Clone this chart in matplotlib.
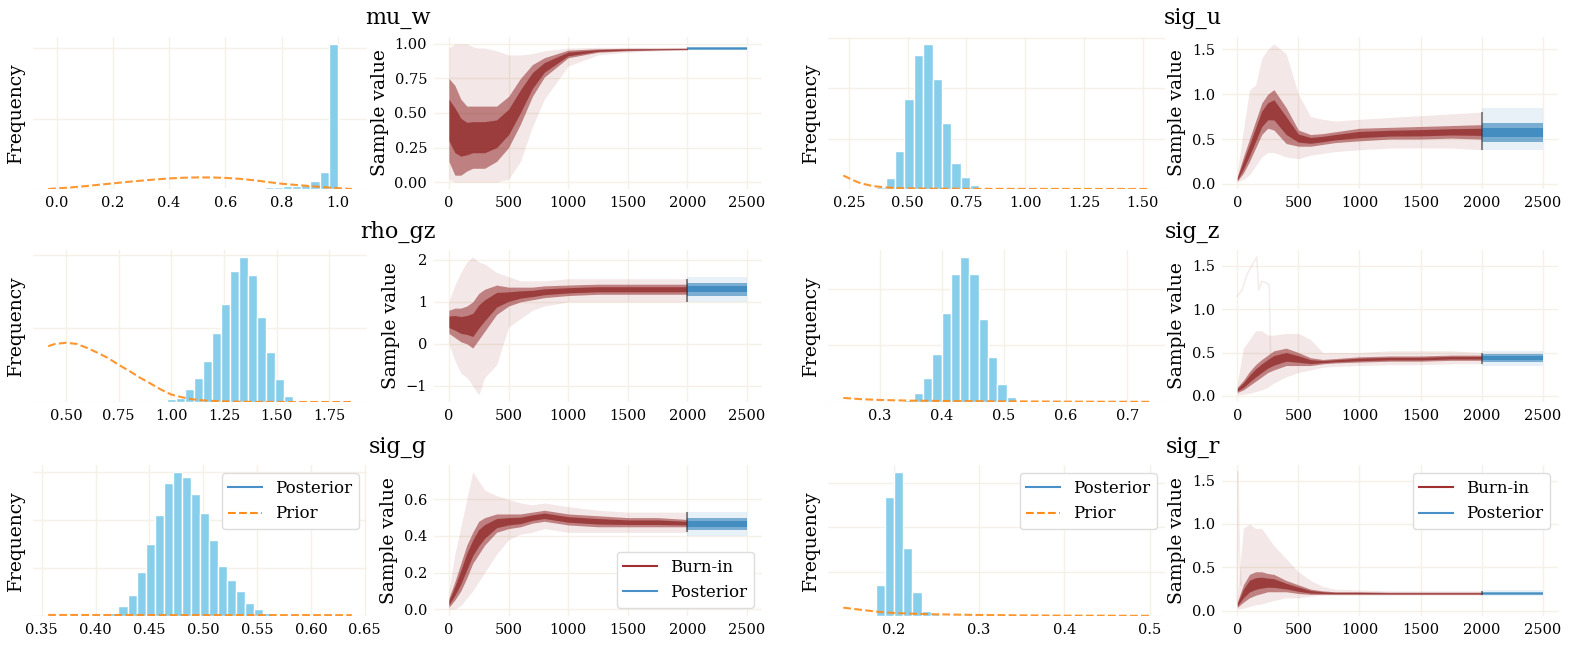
import numpy as np
import matplotlib
matplotlib.use("Agg")
import matplotlib.pyplot as plt
from matplotlib.ticker import MultipleLocator
from matplotlib.lines import Line2D

plt.rcParams['font.family'] = ['DejaVu Serif']

# ---------------- data ----------------
params = ["mu_w", "sig_u", "rho_gz", "sig_z", "sig_g", "sig_r"]

# histogram: first bin edge, bin width, heights (1000 = one grid step)
hist_start = {"mu_w": 0.483, "sig_u": 0.367, "rho_gz": 0.893, "sig_z": 0.3245, "sig_g": 0.4129, "sig_r": 0.168}
hist_width = {"mu_w": 0.0323, "sig_u": 0.0398, "rho_gz": 0.0427, "sig_z": 0.01504, "sig_g": 0.0084, "sig_r": 0.01078}
hist_counts = {
    "mu_w": [6, 6, 8, 10, 12, 14, 16, 20, 24, 30, 38, 48, 60, 110, 240, 2058],
    "sig_u": [33, 213, 753, 1780, 2647, 2867, 2180, 1300, 520, 247, 73],
    "rho_gz": [9, 18, 37, 55, 170, 322, 561, 933, 1333, 1779, 1968, 1720, 1159, 680, 308, 87, 9],
    "sig_z": [12, 30, 162, 431, 850, 1569, 2257, 2557, 2269, 1467, 802, 323, 96, 12],
    "sig_g": [70, 217, 441, 923, 1490, 2098, 2776, 2993, 2902, 2538, 2147, 1573, 1049, 748, 524, 280, 147, 63, 21],
    "sig_r": [23, 699, 2684, 3233, 1519, 541, 113, 38, 15],
}
prior_x = {
    "mu_w": [-0.03, 0.0, 0.05, 0.1, 0.15, 0.2, 0.25, 0.3, 0.35, 0.4, 0.45, 0.5, 0.55, 0.6, 0.65, 0.7, 0.75, 0.8, 0.85, 0.9, 0.95, 1.0, 1.05],
    "sig_u": [0.226, 0.25, 0.28, 0.3, 0.35, 0.4, 0.45, 0.5, 0.6, 0.8, 1.0, 1.25, 1.53],
    "rho_gz": [0.416, 0.45, 0.5, 0.55, 0.6, 0.65, 0.7, 0.75, 0.8, 0.85, 0.9, 0.95, 1.0, 1.05, 1.1, 1.15, 1.2, 1.3, 1.4, 1.6, 1.856],
    "sig_z": [0.241, 0.27, 0.3, 0.35, 0.4, 0.5, 0.6, 0.736],
    "sig_g": [0.356, 0.45, 0.55, 0.638],
    "sig_r": [0.141, 0.16, 0.18, 0.2, 0.22, 0.25, 0.3, 0.35, 0.4, 0.5],
}
prior_y = {
    "mu_w": [0, 8, 22, 40, 60, 80, 100, 118, 135, 150, 160, 165, 164, 158, 145, 125, 100, 75, 58, 42, 26, 12, 0],
    "sig_u": [267, 213, 150, 113, 60, 33, 20, 13, 7, 3, 2, 1, 0],
    "rho_gz": [759, 790, 805, 790, 736, 670, 598, 506, 423, 333, 253, 170, 101, 65, 37, 22, 14, 5, 2, 0, 0],
    "sig_z": [72, 50, 36, 24, 18, 12, 6, 3],
    "sig_g": [22, 20, 19, 18],
    "sig_r": [188, 143, 98, 68, 53, 38, 23, 15, 8, 4],
}

# trace envelopes (burn-in), read at these iterations
trace_x = [0, 50, 100, 150, 200, 250, 300, 400, 500, 600, 700, 800, 1000, 1250, 1500, 1750, 2000]
burn_outer_lo = {
    "mu_w":   [0.02, 0.0, 0.0, 0.0, 0.0, 0.0, 0.0, 0.0, 0.02, 0.15, 0.40, 0.60, 0.84, 0.92, 0.94, 0.95, 0.955],
    "sig_u":  [0.02, 0.05, 0.10, 0.20, 0.30, 0.35, 0.35, 0.30, 0.28, 0.32, 0.34, 0.36, 0.38, 0.40, 0.40, 0.40, 0.38],
    "rho_gz": [0.00, -0.40, -0.70, -0.80, -1.0, -1.22, -0.80, -0.50, 0.40, 0.60, 0.80, 0.90, 1.00, 1.00, 1.00, 1.00, 1.00],
    "sig_z":  [0.01, 0.02, 0.03, 0.05, 0.07, 0.10, 0.15, 0.22, 0.27, 0.30, 0.33, 0.34, 0.35, 0.36, 0.36, 0.37, 0.37],
    "sig_g":  [0.00, 0.00, 0.02, 0.06, 0.10, 0.15, 0.20, 0.30, 0.38, 0.41, 0.42, 0.44, 0.42, 0.42, 0.42, 0.42, 0.42],
    "sig_r":  [0.02, 0.03, 0.05, 0.07, 0.08, 0.10, 0.12, 0.15, 0.15, 0.17, 0.18, 0.18, 0.18, 0.18, 0.18, 0.18, 0.18],
}
burn_inner_lo = {
    "mu_w":   [0.15, 0.05, 0.05, 0.08, 0.10, 0.10, 0.10, 0.15, 0.25, 0.42, 0.62, 0.76, 0.90, 0.94, 0.95, 0.955, 0.958],
    "sig_u":  [0.03, 0.12, 0.25, 0.40, 0.55, 0.62, 0.60, 0.45, 0.42, 0.42, 0.44, 0.46, 0.48, 0.50, 0.50, 0.51, 0.50],
    "rho_gz": [0.25, 0.15, 0.05, 0.00, -0.10, 0.10, 0.30, 0.70, 0.90, 1.00, 1.05, 1.10, 1.15, 1.18, 1.18, 1.18, 1.18],
    "sig_z":  [0.04, 0.07, 0.12, 0.17, 0.22, 0.27, 0.30, 0.35, 0.35, 0.35, 0.37, 0.38, 0.39, 0.40, 0.40, 0.41, 0.41],
    "sig_g":  [0.01, 0.05, 0.10, 0.17, 0.25, 0.30, 0.35, 0.42, 0.44, 0.45, 0.47, 0.48, 0.46, 0.45, 0.45, 0.45, 0.45],
    "sig_r":  [0.04, 0.10, 0.15, 0.18, 0.20, 0.22, 0.22, 0.22, 0.20, 0.19, 0.19, 0.19, 0.19, 0.19, 0.19, 0.19, 0.19],
}
burn_inner_hi = {
    "mu_w":   [0.75, 0.70, 0.60, 0.55, 0.55, 0.55, 0.55, 0.55, 0.62, 0.75, 0.85, 0.90, 0.955, 0.965, 0.968, 0.968, 0.97],
    "sig_u":  [0.08, 0.30, 0.50, 0.70, 0.90, 1.00, 1.05, 0.85, 0.60, 0.55, 0.56, 0.58, 0.62, 0.63, 0.64, 0.65, 0.66],
    "rho_gz": [0.80, 0.85, 0.85, 0.90, 1.00, 1.20, 1.30, 1.40, 1.35, 1.35, 1.35, 1.38, 1.40, 1.42, 1.42, 1.42, 1.42],
    "sig_z":  [0.10, 0.18, 0.28, 0.36, 0.42, 0.47, 0.52, 0.55, 0.50, 0.44, 0.42, 0.43, 0.45, 0.46, 0.46, 0.47, 0.47],
    "sig_g":  [0.06, 0.15, 0.25, 0.35, 0.42, 0.48, 0.50, 0.52, 0.52, 0.52, 0.53, 0.54, 0.52, 0.51, 0.50, 0.50, 0.49],
    "sig_r":  [0.10, 0.30, 0.42, 0.45, 0.45, 0.43, 0.42, 0.35, 0.30, 0.25, 0.23, 0.22, 0.22, 0.215, 0.215, 0.215, 0.215],
}
burn_outer_hi = {
    "mu_w":   [0.97, 1.0, 1.0, 1.0, 0.98, 0.97, 0.97, 0.95, 0.92, 0.92, 0.93, 0.95, 0.97, 0.975, 0.975, 0.975, 0.975],
    "sig_u":  [0.12, 0.60, 1.05, 1.10, 1.40, 1.50, 1.56, 1.45, 1.00, 0.75, 0.72, 0.70, 0.72, 0.74, 0.76, 0.78, 0.80],
    "rho_gz": [1.00, 1.40, 1.70, 1.95, 2.07, 1.95, 1.90, 1.70, 1.60, 1.50, 1.50, 1.50, 1.55, 1.55, 1.55, 1.55, 1.55],
    "sig_z":  [0.15, 0.55, 0.65, 0.75, 0.75, 0.70, 0.70, 0.72, 0.72, 0.65, 0.50, 0.50, 0.50, 0.52, 0.52, 0.52, 0.50],
    "sig_g":  [0.10, 0.30, 0.45, 0.60, 0.75, 0.70, 0.65, 0.62, 0.60, 0.58, 0.57, 0.58, 0.56, 0.54, 0.53, 0.53, 0.53],
    "sig_r":  [0.15, 0.95, 1.00, 0.95, 0.95, 0.85, 0.75, 0.60, 0.45, 0.35, 0.28, 0.25, 0.24, 0.23, 0.23, 0.23, 0.23],
}
# posterior envelopes (iterations 2000-2500): outer_lo, inner_lo, inner_hi, outer_hi
post_x = [2000, 2500]
post_band = {
    "mu_w":   [0.955, 0.958, 0.975, 0.98],
    "sig_u":  [0.38, 0.47, 0.68, 0.85],
    "rho_gz": [1.00, 1.15, 1.45, 1.58],
    "sig_z":  [0.35, 0.39, 0.48, 0.52],
    "sig_g":  [0.40, 0.43, 0.50, 0.53],
    "sig_r":  [0.17, 0.18, 0.22, 0.235],
}
# single stray chains
stray_x = {"sig_z": [0, 40, 80, 120, 160, 175, 200, 240, 262, 272],
           "sig_r": [0, 6, 12, 20, 30]}
stray_y = {"sig_z": [1.15, 1.22, 1.40, 1.50, 1.60, 1.22, 1.32, 1.30, 1.28, 0.45],
           "sig_r": [0.10, 1.60, 1.00, 0.60, 0.30]}

# ---------------- styling / layout ----------------
W, H = 1572, 645
BURN = "#8b1a1a"
POST = "#1f77b4"
BAR = "#87ceeb"
PRIOR = "#ff8c1a"
GRID = "#f5f1e7"

col_left = [33, 434, 828, 1222]
col_w = [334, 328, 337, 336]
row_top = [37, 250, 465]
row_h = [152, 152, 151]
layout = {"mu_w": (0, 0), "sig_u": (0, 1), "rho_gz": (1, 0), "sig_z": (1, 1), "sig_g": (2, 0), "sig_r": (2, 1)}
title_y = [18, 232, 447]
hist_xstep = {"mu_w": 0.2, "sig_u": 0.25, "rho_gz": 0.25, "sig_z": 0.1, "sig_g": 0.05, "sig_r": 0.1}
trace_ystep = {"mu_w": 0.25, "sig_u": 0.5, "rho_gz": 1, "sig_z": 0.5, "sig_g": 0.2, "sig_r": 0.5}

fig = plt.figure(figsize=(W / 100, H / 100), dpi=100)


def rect(l, t, w, h):
    return [l / W, 1 - (t + h) / H, w / W, h / H]


def style(ax):
    for s in ax.spines.values():
        s.set_visible(False)
    ax.grid(True, color=GRID, lw=1.0)
    ax.set_axisbelow(True)
    ax.tick_params(length=0, labelsize=10.5, pad=5)


for p in params:
    r, c = layout[p]
    hc, tc = 2 * c, 2 * c + 1
    axh = fig.add_axes(rect(col_left[hc], row_top[r], col_w[hc], row_h[r]))
    axt = fig.add_axes(rect(col_left[tc], row_top[r], col_w[tc], row_h[r]))
    style(axh)
    style(axt)

    # histogram
    counts = hist_counts[p]
    edges = hist_start[p] + hist_width[p] * np.arange(len(counts) + 1)
    axh.bar(edges[:-1], counts, width=np.diff(edges), align="edge",
            color=BAR, edgecolor="white", linewidth=1.0, zorder=2)
    axh.plot(prior_x[p], prior_y[p], "--", color=PRIOR, lw=1.5, alpha=0.9, zorder=3)
    axh.yaxis.set_major_locator(MultipleLocator(1000))
    axh.xaxis.set_major_locator(MultipleLocator(hist_xstep[p]))
    axh.tick_params(axis="y", labelleft=False)
    axh.set_ylabel("Frequency", fontsize=13.5, labelpad=6)

    # trace
    tx = np.array(trace_x, dtype=float)
    olo, ilo = np.array(burn_outer_lo[p]), np.array(burn_inner_lo[p])
    ihi, ohi = np.array(burn_inner_hi[p]), np.array(burn_outer_hi[p])
    axt.fill_between(tx, olo, ohi, color=BURN, alpha=0.10, lw=0)
    axt.fill_between(tx, ilo, ihi, color=BURN, alpha=0.50, lw=0)
    q = 0.25 * (ihi - ilo)
    axt.fill_between(tx, ilo + q, ihi - q, color=BURN, alpha=0.65, lw=0)
    pb = post_band[p]
    pxa = np.array(post_x, dtype=float)
    axt.fill_between(pxa, [pb[0]] * 2, [pb[3]] * 2, color=POST, alpha=0.10, lw=0)
    axt.fill_between(pxa, [pb[1]] * 2, [pb[2]] * 2, color=POST, alpha=0.55, lw=0)
    qq = 0.25 * (pb[2] - pb[1])
    axt.fill_between(pxa, [pb[1] + qq] * 2, [pb[2] - qq] * 2, color=POST, alpha=0.6, lw=0)
    if p in stray_x:
        axt.plot(stray_x[p], stray_y[p], color=BURN, alpha=0.08, lw=1.2)
    if p != "mu_w":
        axt.vlines(post_x[0], olo[-1], ohi[-1], color="#333333", alpha=0.6, lw=1.3)
    axt.xaxis.set_major_locator(MultipleLocator(500))
    axt.yaxis.set_major_locator(MultipleLocator(trace_ystep[p]))
    axt.set_ylabel("Sample value", fontsize=13.5, labelpad=4)

    # title centred over the pair
    xc = (col_left[hc] + col_left[tc] + col_w[tc]) / 2 / W
    fig.text(xc, 1 - title_y[r] / H, p, ha="center", va="center", fontsize=16)

    if r == 2:
        hh = [Line2D([], [], color="#4a90c8", lw=1.5),
              Line2D([], [], color=PRIOR, lw=1.5, ls="--")]
        axh.legend(hh, ["Posterior", "Prior"], loc="upper right", fontsize=12,
                   framealpha=1, edgecolor="#dddddd")
        th = [Line2D([], [], color="#a03030", lw=1.5),
              Line2D([], [], color="#4a90c8", lw=1.5)]
        axt.legend(th, ["Burn-in", "Posterior"],
                   loc="lower right" if p == "sig_g" else "upper right",
                   fontsize=12, framealpha=1, edgecolor="#dddddd")

fig.savefig("out.png", dpi=100)
